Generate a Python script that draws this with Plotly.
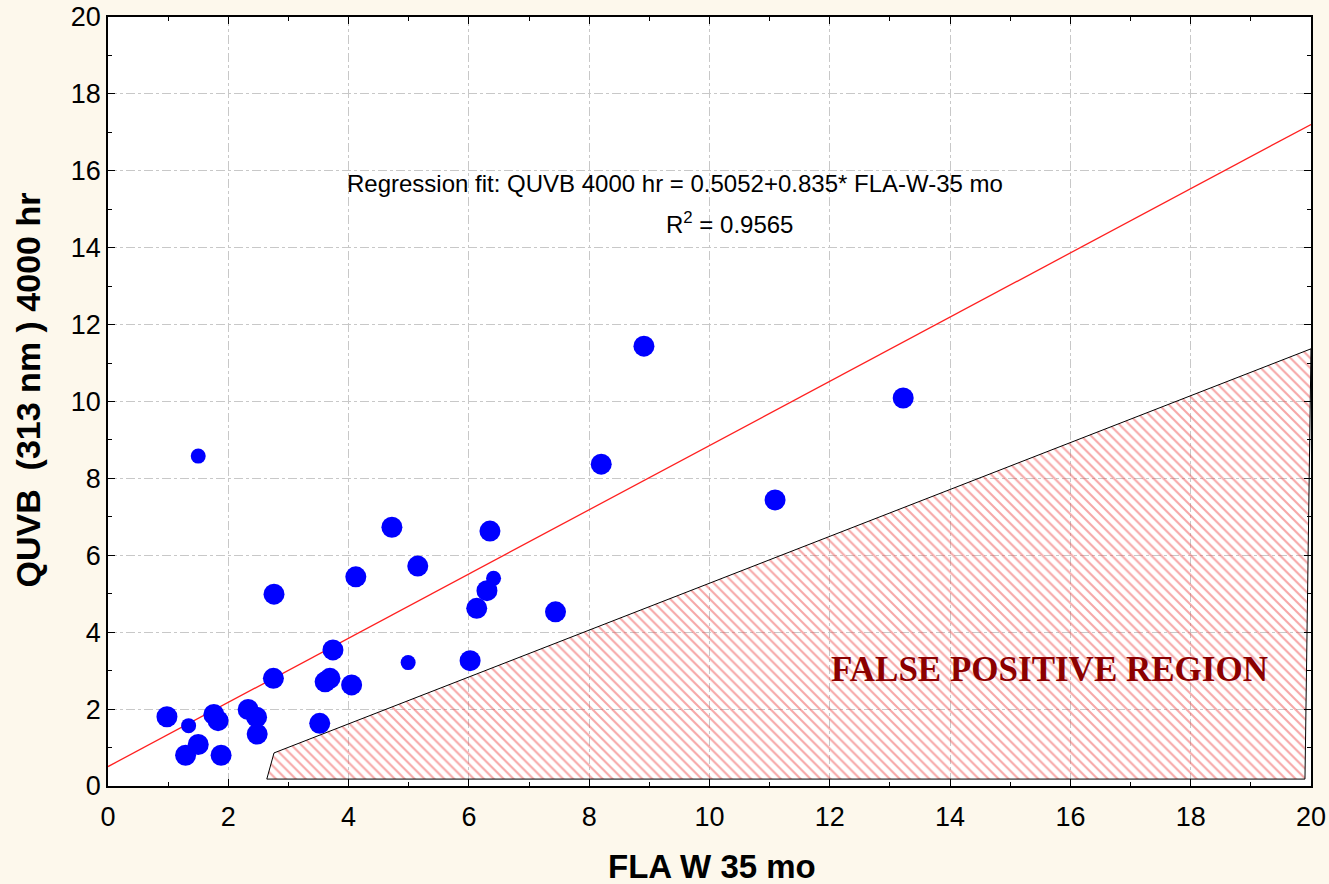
import plotly.graph_objects as go

# Data points (FLA W 35 mo vs QUVB 4000 hr)
fla_w35 = [0.98, 1.29, 1.50, 1.76, 1.83, 1.88, 2.33, 2.47, 2.48, 2.75, 2.76,
           3.52, 3.61, 3.69, 3.74, 4.05, 4.12, 4.72, 5.15, 6.02, 6.13, 6.30,
           6.35, 7.44, 8.20, 8.91, 11.09, 13.22]
quvb_4000 = [1.80, 0.80, 1.08, 1.86, 1.70, 0.80, 1.99, 1.79, 1.35, 2.80, 4.99,
             1.63, 2.71, 2.80, 3.54, 2.63, 5.44, 6.73, 5.72, 3.26, 4.62, 5.08,
             6.63, 4.53, 8.37, 11.44, 7.44, 10.09]
# flatter (smaller) points
fla_w35_small = [1.34, 1.50, 4.99, 6.41]
quvb_4000_small = [1.57, 8.58, 3.21, 5.40]

# regression fit line endpoints: QUVB = 0.5052 + 0.835 * FLA
fit_x = [0.0, 20.0]
fit_y = [0.5052, 17.2052]

# false positive region polygon
region_x = [2.64, 2.76, 20.0, 19.9, 2.64]
region_y = [0.18, 0.86, 11.37, 0.18, 0.18]

x_ticks = [0, 2, 4, 6, 8, 10, 12, 14, 16, 18, 20]
y_ticks = [0, 2, 4, 6, 8, 10, 12, 14, 16, 18, 20]

BG = "#FDF8EC"

fig = go.Figure()

fig.add_trace(go.Scatter(
    x=region_x, y=region_y, mode="lines", fill="toself",
    fillcolor="rgba(255,255,255,0)",
    fillpattern=dict(shape="\\", fgcolor="#EE5050", bgcolor="rgba(255,255,255,0)",
                     size=7, solidity=0.3),
    line=dict(color="black", width=1), hoverinfo="skip", showlegend=False))

fig.add_trace(go.Scatter(
    x=fit_x, y=fit_y, mode="lines", line=dict(color="#FF2020", width=1.3),
    showlegend=False))

fig.add_trace(go.Scatter(
    x=fla_w35, y=quvb_4000, mode="markers",
    marker=dict(color="#0000FF", size=21, line=dict(width=0)), showlegend=False))

fig.add_trace(go.Scatter(
    x=fla_w35_small, y=quvb_4000_small, mode="markers",
    marker=dict(color="#0000FF", size=15, line=dict(width=0)), showlegend=False))

fig.add_annotation(x=9.43, y=15.68, xref="x", yref="y", showarrow=False,
                   text="Regression fit: QUVB 4000 hr = 0.5052+0.835* FLA-W-35 mo",
                   font=dict(family="Liberation Sans, Arial", size=24, color="black"))
fig.add_annotation(x=10.34, y=14.64, xref="x", yref="y", showarrow=False,
                   text="R<sup>2</sup> = 0.9565",
                   font=dict(family="Liberation Sans, Arial", size=24, color="black"))
fig.add_annotation(x=15.66, y=3.02, xref="x", yref="y", showarrow=False,
                   text="<b>FALSE POSITIVE REGION</b>",
                   font=dict(family="Liberation Serif, Times New Roman", size=35, color="#8B0000"))

# axis titles
fig.add_annotation(x=0.5, y=0, xref="paper", yref="paper", showarrow=False,
                   xanchor="center", yanchor="middle", xshift=2, yshift=-80,
                   text="<b>FLA W 35 mo</b>",
                   font=dict(family="Liberation Sans, Arial", size=33, color="black"))
fig.add_annotation(x=0, y=0.5, xref="paper", yref="paper", showarrow=False,
                   xanchor="center", yanchor="middle", xshift=-81, yshift=11,
                   textangle=-90,
                   text="<b>QUVB  (313 nm ) 4000 hr</b>",
                   font=dict(family="Liberation Sans, Arial", size=34, color="black"))

axis_common = dict(
    showgrid=True, gridcolor="#C8C8C8", griddash="dashdot", gridwidth=1,
    zeroline=False, showline=True, linecolor="black", linewidth=1.5,
    mirror="ticks", ticks="inside", ticklen=7, tickcolor="black", tickwidth=1,
    tickfont=dict(family="Liberation Sans, Arial", size=27, color="black"),
    minor=dict(ticks="inside", ticklen=4, dtick=1, tickcolor="black", showgrid=False),
    automargin=False,
)

fig.update_layout(
    width=1329, height=884,
    paper_bgcolor=BG, plot_bgcolor="white",
    margin=dict(l=108, r=18, t=17, b=98),
    xaxis=dict(range=[0, 20], tickvals=x_ticks, ticklabelstandoff=6, **axis_common),
    yaxis=dict(range=[0, 20], tickvals=y_ticks, **axis_common),
)

fig.write_html(
    "out.html",
    config={"displayModeBar": False},
    post_script="document.body.style.margin='0';document.body.style.overflow='hidden';"
                "document.body.style.background='" + BG + "';",
)
